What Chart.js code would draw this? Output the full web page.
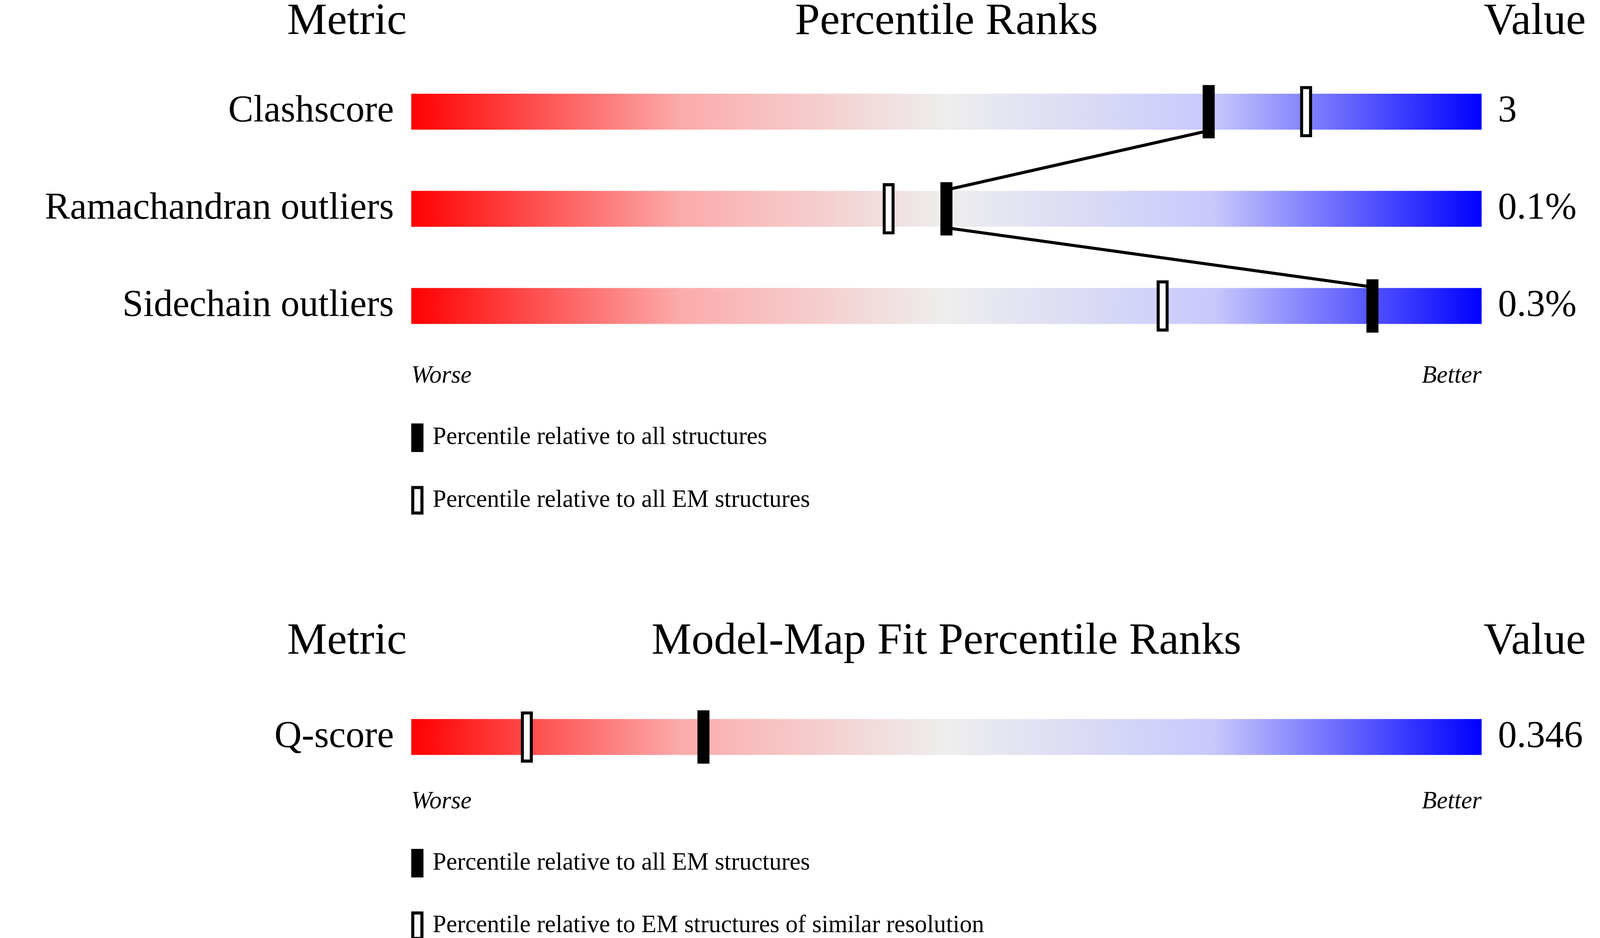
<!DOCTYPE html>
<html>
<head>
<meta charset="utf-8">
<script src="https://cdn.jsdelivr.net/npm/chart.js@4"></script>
<style>
  html, body { margin: 0; padding: 0; background: #fff; overflow: hidden; }
  #wrap { position: relative; width: 100vw; height: 100vh; }
</style>
</head>
<body>
<div id="wrap"><canvas id="myChart"></canvas></div>
<script>
// rows of the two panels (y in reference units, 0..840)
const metrics = ["Clashscore", "Ramachandran outliers", "Sidechain outliers", "Q-score"];
const rowY = [100, 187, 274, 660];
const values = ["3", "0.1%", "0.3%", "0.346"];
const pctAll = [74.5, 50.0, 89.8, 27.3];   // filled marker
const pctEM = [83.6, 44.6, 70.2, 10.8];    // open marker
const titles = ["Percentile Ranks", "Model-Map Fit Percentile Ranks"];
const titleY = [20, 575];
const legend1 = ["Percentile relative to all structures", "Percentile relative to all EM structures"];
const legend2 = ["Percentile relative to all EM structures", "Percentile relative to EM structures of similar resolution"];

const serif = '"Liberation Serif", "DejaVu Serif", serif';
const W = 1.1; // marker width in percent
const sc = chart => chart.width / 1568;

function gradient(chart) {
  const {ctx, chartArea} = chart;
  if (!chartArea) return "#ddd";
  const g = ctx.createLinearGradient(chartArea.left, 0, chartArea.right, 0);
  g.addColorStop(0, "rgb(255,0,0)");
  g.addColorStop(0.25, "rgb(252,170,170)");
  g.addColorStop(0.5, "rgb(238,238,238)");
  g.addColorStop(0.75, "rgb(200,200,252)");
  g.addColorStop(1, "rgb(0,0,255)");
  return g;
}

const texts = {
  id: "texts",
  afterDatasetsDraw(chart) {
    const {ctx, chartArea: {left, right}, scales: {y}} = chart;
    const S = sc(chart);
    ctx.save();
    ctx.fillStyle = "#000";
    ctx.strokeStyle = "#000";
    ctx.textBaseline = "middle";
    // headers
    ctx.font = (44 * S) + "px " + serif;
    titleY.forEach((ty, i) => {
      const py = y.getPixelForValue(ty);
      ctx.textAlign = "center";
      ctx.fillText("Metric", 340 * S, py);
      ctx.fillText(titles[i], (left + right) / 2, py);
      ctx.textAlign = "left";
      ctx.fillText("Value", right + 2 * S, py);
    });
    // row labels and values
    ctx.font = (37 * S) + "px " + serif;
    metrics.forEach((m, i) => {
      const py = y.getPixelForValue(rowY[i]);
      ctx.textAlign = "right";
      ctx.fillText(m, left - 17 * S, py);
      ctx.textAlign = "left";
      ctx.fillText(values[i], right + 16 * S, py);
    });
    // worse / better
    ctx.font = "italic " + (24 * S) + "px " + serif;
    [337, 718].forEach(wy => {
      const py = y.getPixelForValue(wy);
      ctx.textAlign = "left";
      ctx.fillText("Worse", left, py);
      ctx.textAlign = "right";
      ctx.fillText("Better", right, py);
    });
    // legends
    ctx.font = (24 * S) + "px " + serif;
    ctx.textAlign = "left";
    [[392, legend1], [773, legend2]].forEach(([ly, labels]) => {
      labels.forEach((lab, k) => {
        const py = y.getPixelForValue(ly + k * 56);
        const h = 28 * S, w = 12 * S;
        if (k === 0) {
          ctx.fillRect(left, py - h / 2, w, h);
        } else {
          ctx.lineWidth = 3 * S;
          ctx.strokeRect(left + 1.5 * S, py - h / 2 + 1.5 * S, w - 3 * S, h - 3 * S);
        }
        ctx.fillText(lab, left + 21 * S, py);
      });
    });
    ctx.restore();
  }
};

const bgData = rowY.map(r => ({x: [0, 100], y: r}));
const allData = rowY.map((r, i) => ({x: [pctAll[i] - W / 2, pctAll[i] + W / 2], y: r}));
const emData = rowY.map((r, i) => ({x: [pctEM[i] - W / 2, pctEM[i] + W / 2], y: r}));
const linkData = [
  {x: pctAll[0], y: rowY[0] + 17},
  {x: pctAll[1], y: rowY[1] - 17},
  {x: pctAll[1], y: rowY[1] + 17},
  {x: pctAll[2], y: rowY[2] - 17}
];

new Chart(document.getElementById("myChart"), {
  data: {
    datasets: [
      {type: "bar", data: bgData, backgroundColor: ctx => gradient(ctx.chart), barThickness: ctx => 35 * sc(ctx.chart), grouped: false, order: 4, borderWidth: 0},
      {type: "line", data: linkData, borderColor: "#000", borderWidth: ctx => 3 * sc(ctx.chart), pointRadius: 0, order: 3, indexAxis: "x"},
      {type: "bar", data: emData, backgroundColor: "#fff", borderColor: "#000", borderWidth: ctx => 3 * sc(ctx.chart), barThickness: ctx => 50 * sc(ctx.chart), grouped: false, order: 2, borderSkipped: false},
      {type: "bar", data: allData, backgroundColor: "#000", barThickness: ctx => 52 * sc(ctx.chart), grouped: false, order: 1, borderWidth: 0}
    ]
  },
  options: {
    indexAxis: "y",
    responsive: true,
    maintainAspectRatio: false,
    animation: false,
    layout: {padding: ctx => ({left: 403 * sc(ctx.chart), right: (1568 - 1452) * sc(ctx.chart), top: 0, bottom: 0})},
    scales: {
      x: {type: "linear", min: 0, max: 100, display: false, offset: false},
      y: {type: "linear", min: 0, max: 840, reverse: true, display: false, offset: false}
    },
    plugins: {legend: {display: false}, tooltip: {enabled: false}}
  },
  plugins: [texts]
});
</script>
</body>
</html>
